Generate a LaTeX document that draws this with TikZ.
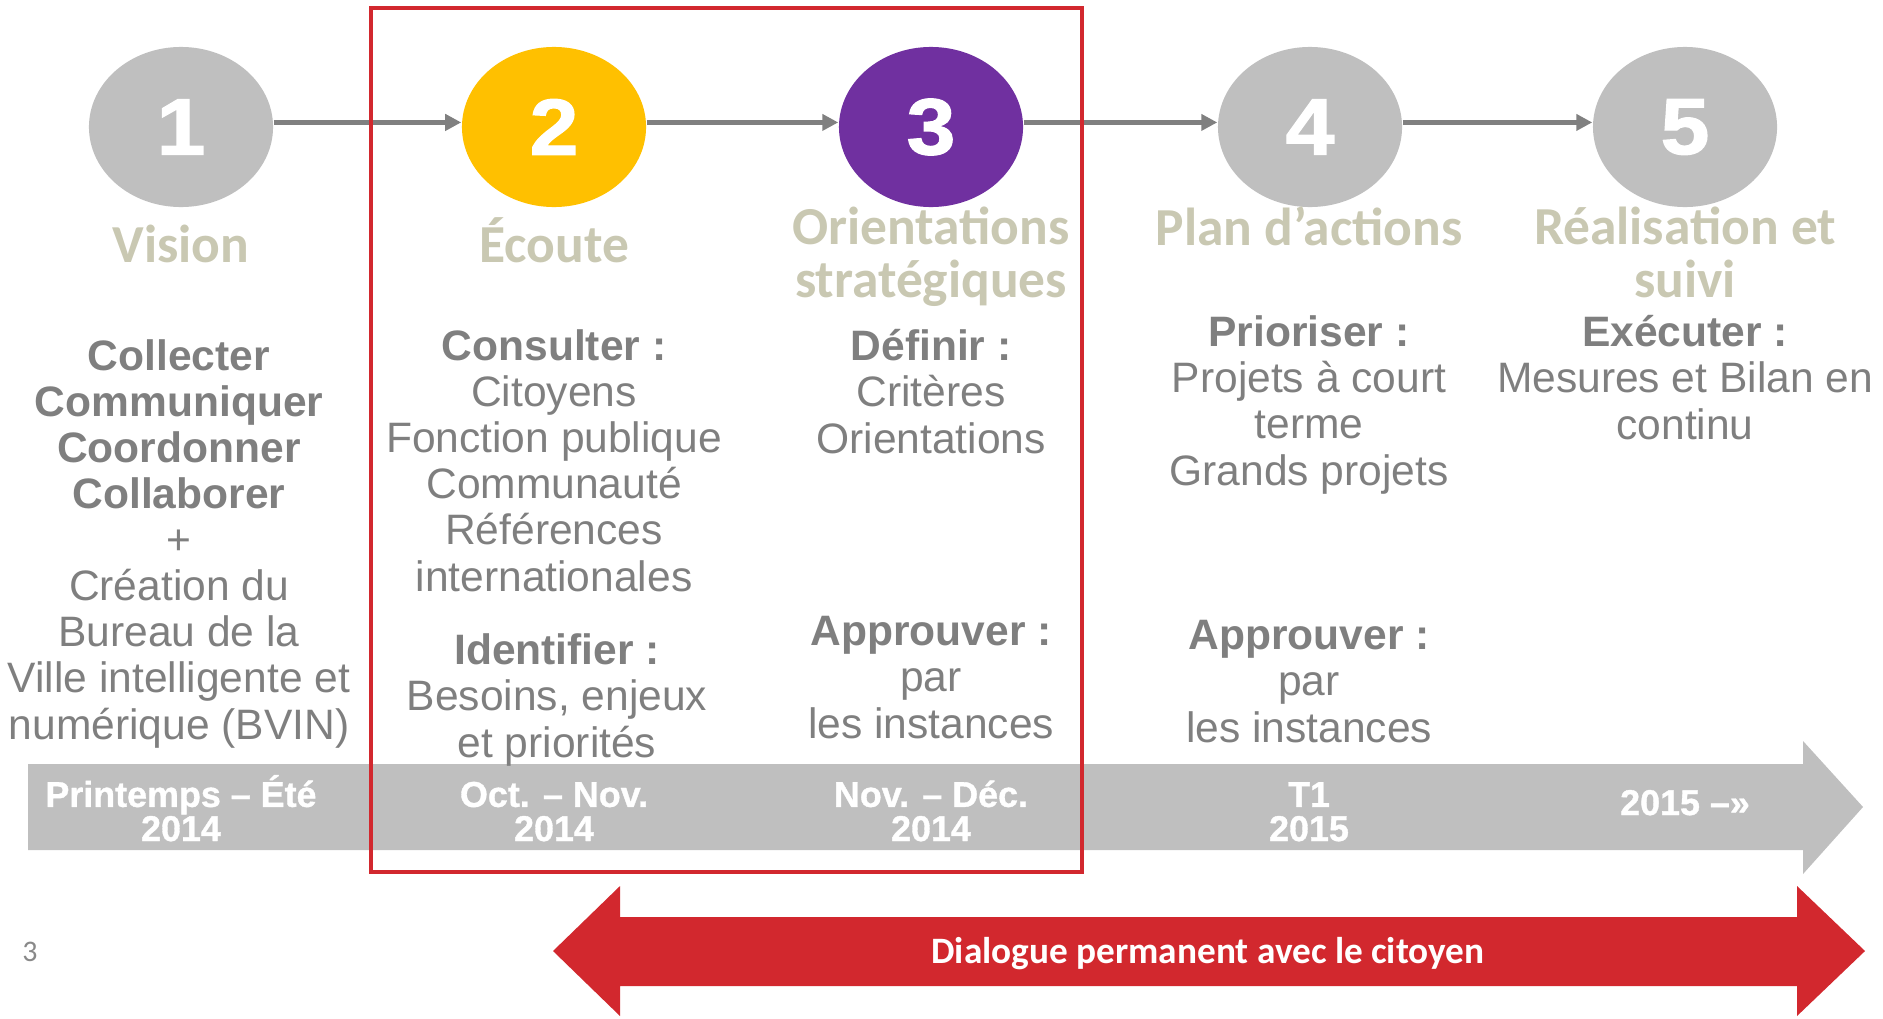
\documentclass[tikz,border=0pt]{standalone}
\usepackage{fontspec}
\setmainfont{Liberation Sans}
\newfontfamily\titlefont{Carlito}
\newfontfamily\numfont[FakeBold=1.5,FakeStretch=1.1]{Liberation Sans Bold}
\newfontfamily\bandfont[FakeBold=1]{Liberation Sans Bold}
\usetikzlibrary{arrows.meta,shapes.geometric}
\definecolor{stepgray}{HTML}{BFBFBF}
\definecolor{stepyellow}{HTML}{FFC000}
\definecolor{steppurple}{HTML}{7030A0}
\definecolor{linkgray}{HTML}{808080}
\definecolor{titlebeige}{RGB}{201,200,178}
\definecolor{textgray}{HTML}{7F7F7F}
\definecolor{pagegray}{HTML}{898989}
\definecolor{alertred}{RGB}{210,40,46}

\begin{document}
\begin{tikzpicture}[
    % une unité = un pixel de l'image
    x=0.01cm, y=-0.01cm,
    % pastilles numérotées
    stepdisc/.style={ellipse, minimum width=1.84cm, minimum height=1.60cm, inner sep=0pt,
        text=white, font=\numfont\fontsize{22.7pt}{22.7pt}\selectfont},
    % flèches entre les étapes
    link/.style={draw=linkgray, line width=1.5pt, -{Triangle[length=0.16cm, width=0.16cm]}},
    % titres des étapes (ancrés sur la dernière ligne)
    steptitle/.style={anchor=base, align=center, inner sep=0pt, text=titlebeige,
        font=\titlefont\bfseries\fontsize{15.2pt}{14.8pt}\selectfont},
    % textes des colonnes
    stepbody/.style={anchor=base, align=center, inner sep=0pt, text=textgray,
        font=\fontsize{12.1pt}{13.1pt}\selectfont},
    % dates sur la bande grise
    bandlabel/.style={anchor=base, align=center, inner sep=0pt, text=white,
        font=\bandfont\fontsize{10.2pt}{9.7pt}\selectfont},
    dialogue/.style={anchor=base, inner sep=0pt, text=white,
        font=\titlefont\bfseries\fontsize{10.6pt}{10.6pt}\selectfont},
    pagenum/.style={inner sep=0pt, text=pagegray, font=\titlefont\fontsize{8.5pt}{8.5pt}\selectfont}
]
\useasboundingbox (0,0) rectangle (1883,1018);

% bande chronologique
\fill[stepgray] (28,764) -- (1803,764) -- (1803,741) -- (1863,807) -- (1803,874)
    -- (1803,850) -- (28,850) -- cycle;

% double flèche rouge
\fill[alertred] (553,951) -- (620,886) -- (620,917) -- (1797,917) -- (1797,886)
    -- (1865,951) -- (1797,1016) -- (1797,986) -- (620,986) -- (620,1016) -- cycle;

% pastilles
\node[stepdisc, fill=stepgray]   (s1) at (181,127)  {1};
\node[stepdisc, fill=stepyellow] (s2) at (554,127)  {2};
\node[stepdisc, fill=steppurple] (s3) at (931,127)  {3};
\node[stepdisc, fill=stepgray]   (s4) at (1310,127) {4};
\node[stepdisc, fill=stepgray]   (s5) at (1685,127) {5};

\draw[link] ([yshift=1.3pt]s1.east) -- ([yshift=1.3pt]s2.west);
\draw[link] ([yshift=1.3pt]s2.east) -- ([yshift=1.3pt]s3.west);
\draw[link] ([yshift=1.3pt]s3.east) -- ([yshift=1.3pt]s4.west);
\draw[link] ([yshift=1.3pt]s4.east) -- ([yshift=1.3pt]s5.west);

% titres
\node[steptitle] (t1) at (181,262)  {Vision};
\node[steptitle] (t2) at (554,262)  {Écoute};
\node[steptitle] (t3) at (931,297)  {Orientations\\stratégiques};
\node[steptitle] (t4) at (1309,245) {Plan d’actions};
\node[steptitle] (t5) at (1685,297) {Réalisation et\\suivi};

% colonnes
\node[stepbody] (b1) at (179,739) {\textbf{Collecter}\\\textbf{Communiquer}\\\textbf{Coordonner}\\\textbf{Collaborer}\\+\\Création du\\Bureau de la\\Ville intelligente et\\numérique (BVIN)};
\node[stepbody] (b2a) at (554,591) {\textbf{Consulter :}\\Citoyens\\Fonction publique\\Communauté\\Références\\internationales};
\node[stepbody] (b2b) at (557,757) {\textbf{Identifier :}\\Besoins, enjeux\\et priorités};
\node[stepbody] (b3a) at (931,453) {\textbf{Définir :}\\Critères\\Orientations};
\node[stepbody] (b3b) at (931,738) {\textbf{Approuver :}\\par\\les instances};
\node[stepbody] (b4a) at (1309,485) {\textbf{Prioriser :}\\Projets à court\\terme\\Grands projets};
\node[stepbody] (b4b) at (1309,742) {\textbf{Approuver :}\\par\\les instances};
\node[stepbody] (b5a) at (1685,439) {\textbf{Exécuter :}\\Mesures et Bilan en\\continu};

% dates
\node[bandlabel] (d1) at (181,841)  {Printemps – Été\\2014};
\node[bandlabel] (d2) at (554,841)  {Oct. – Nov.\\2014};
\node[bandlabel] (d3) at (931,841)  {Nov. – Déc.\\2014};
\node[bandlabel] (d4) at (1309,841) {T1\\2015};
\node[bandlabel] (d5) at (1685,815) {2015 –»};

\node[dialogue] (dlg) at (1208,963) {Dialogue permanent avec le citoyen};
\node[pagenum] (pg) at (30,952) {3};

% cadre des étapes 2 et 3
\draw[alertred, line width=1.14pt] (371,8) rectangle (1082,872);
\end{tikzpicture}
\end{document}
